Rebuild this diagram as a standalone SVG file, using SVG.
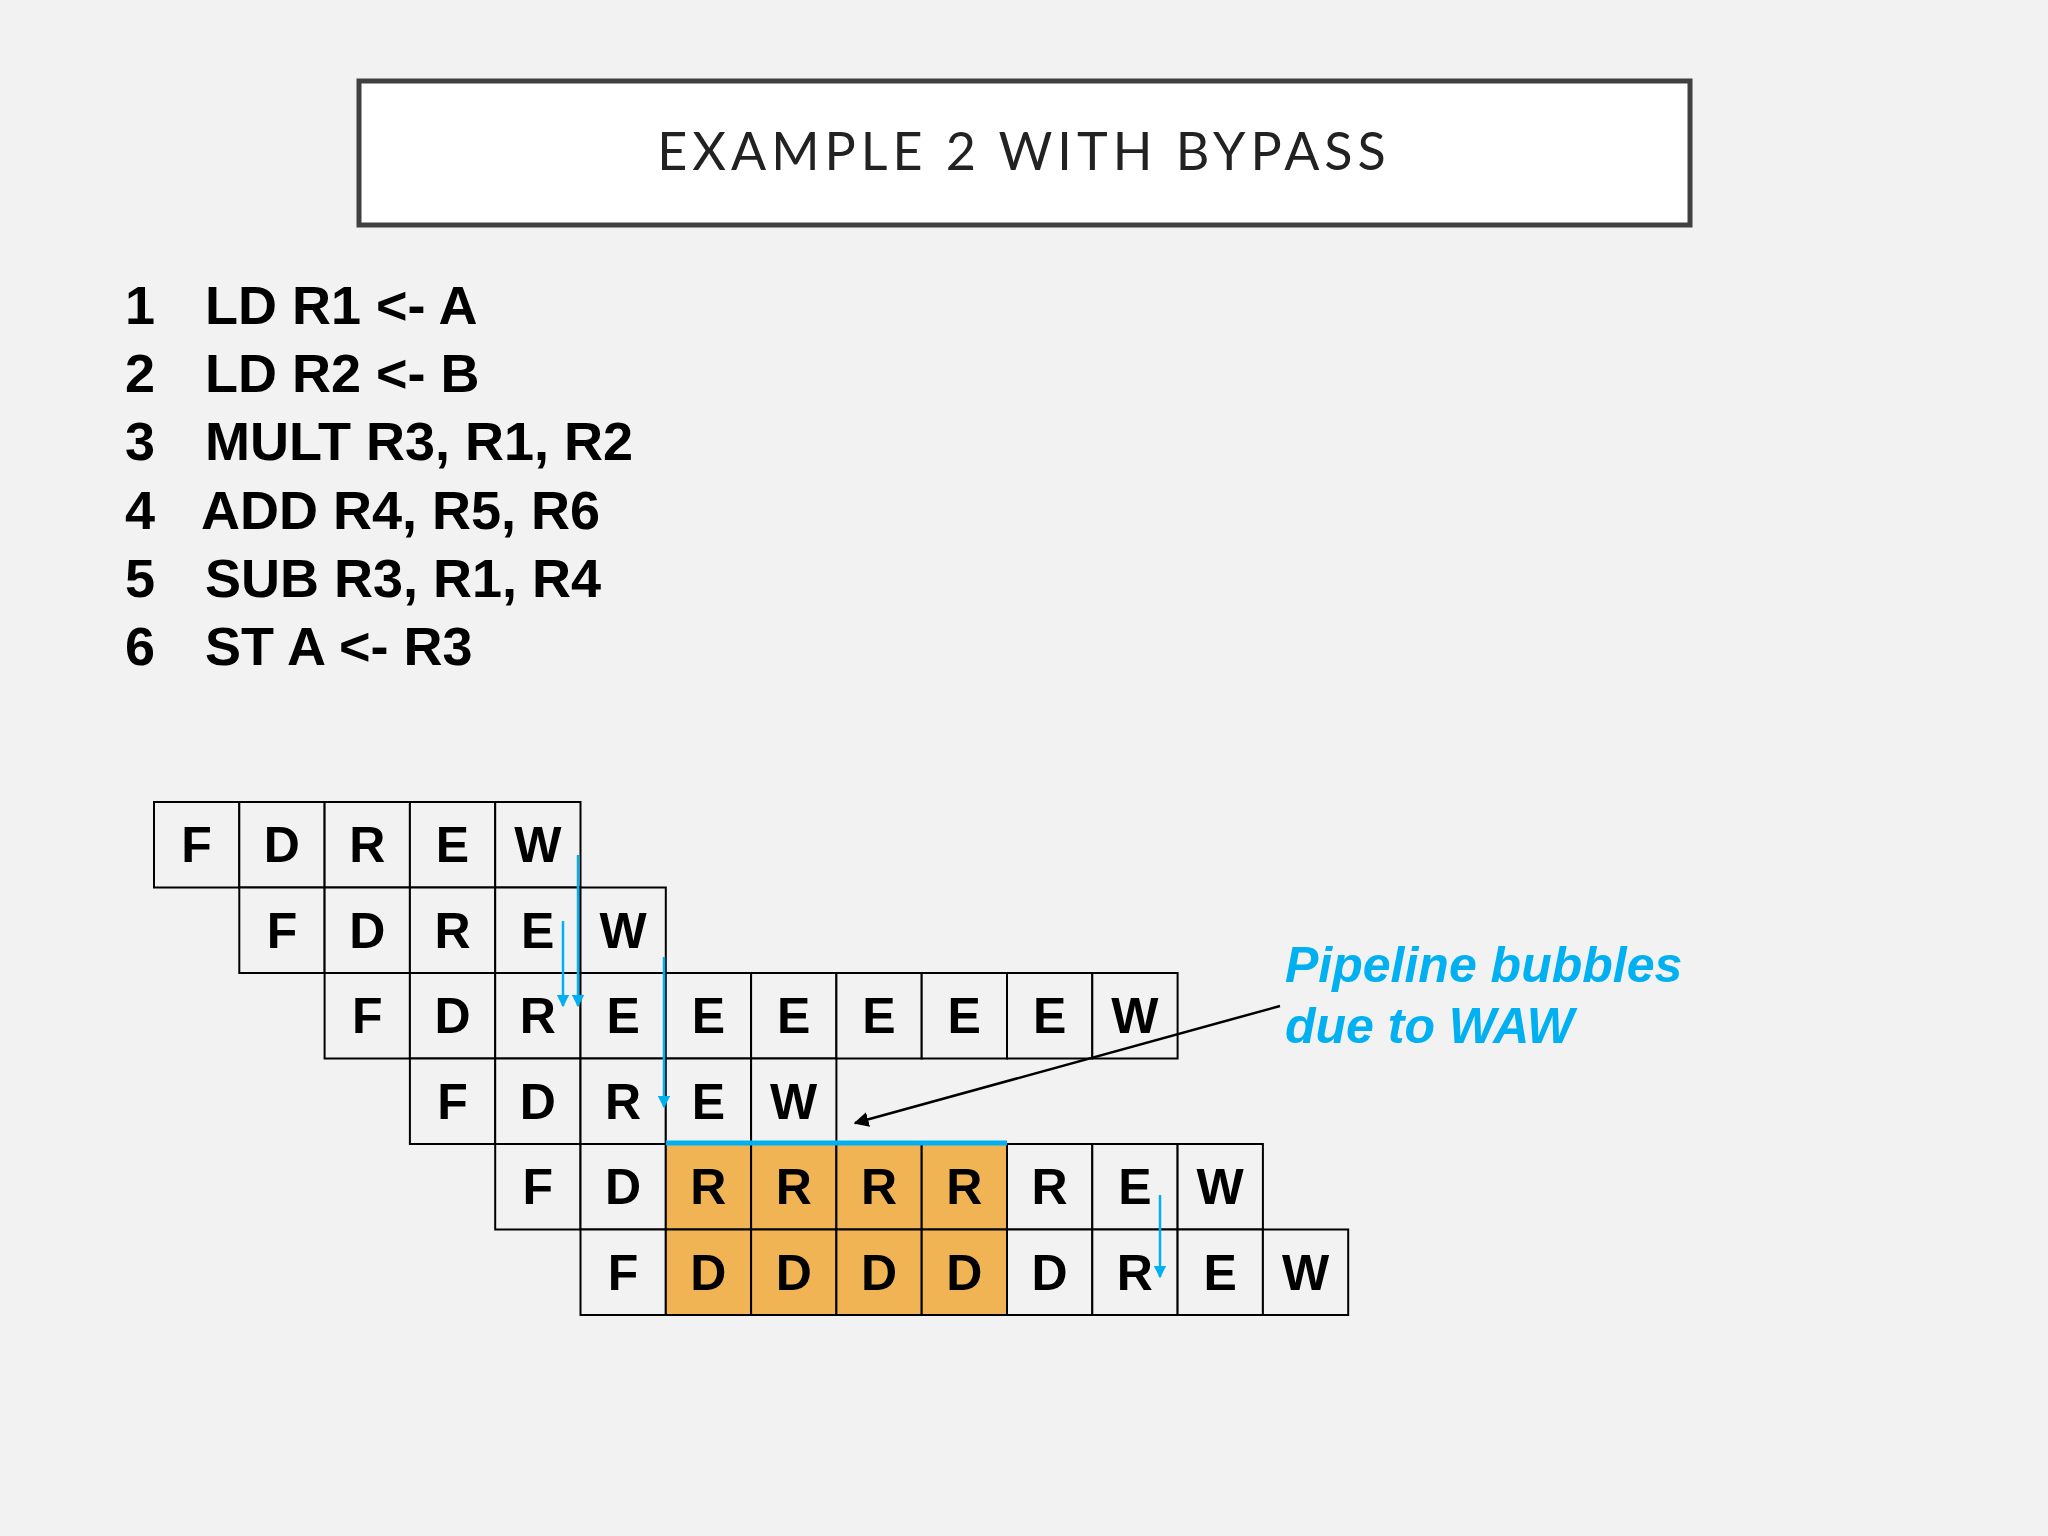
<svg xmlns="http://www.w3.org/2000/svg" width="2048" height="1536" viewBox="0 0 2048 1536">
<style>
.c{fill:#f2f2f2;stroke:#000;stroke-width:2}
.o{fill:#f0b455;stroke:#000;stroke-width:2}
.t{font-family:"Liberation Sans",Arial,sans-serif;font-weight:bold;font-size:50px;text-anchor:middle;fill:#000}
.l{font-family:"Liberation Sans",Arial,sans-serif;font-weight:bold;font-size:54px;fill:#000}
.b{stroke:#00b0f0;stroke-width:2.5;fill:none}
</style>
<defs>
<marker id="ab" viewBox="0 0 10 10" refX="9" refY="5" markerWidth="5" markerHeight="5" orient="auto"><path d="M0,0L10,5L0,10z" fill="#00b0f0"/></marker>
<marker id="ak" viewBox="0 0 10 10" refX="9" refY="5" markerWidth="6" markerHeight="6" orient="auto"><path d="M0,0L10,5L0,10z" fill="#000"/></marker>
</defs>
<rect width="2048" height="1536" fill="#f2f2f2"/>
<g id="title"><rect x="359" y="81" width="1331" height="144" fill="#fff" stroke="#404040" stroke-width="5"/>
<text x="1024" y="170" font-family="Lato,'Open Sans',sans-serif" font-size="52" letter-spacing="5" text-anchor="middle" fill="#222">EXAMPLE 2 WITH BYPASS</text></g>
<g id="code">
<text class="l" x="125" y="324">1</text><text class="l" x="205" y="324">LD R1 &lt;- A</text>
<text class="l" x="125" y="392">2</text><text class="l" x="205" y="392">LD R2 &lt;- B</text>
<text class="l" x="125" y="460">3</text><text class="l" x="205" y="460">MULT R3, R1, R2</text>
<text class="l" x="125" y="529">4</text><text class="l" x="201" y="529">ADD R4, R5, R6</text>
<text class="l" x="125" y="597">5</text><text class="l" x="205" y="597">SUB R3, R1, R4</text>
<text class="l" x="125" y="665">6</text><text class="l" x="205" y="665">ST A &lt;- R3</text>
</g>
<g id="row0">
<rect class="c" x="154" y="802" width="85.3" height="85.5"/><text class="t" x="196.6" y="862">F</text>
<rect class="c" x="239.3" y="802" width="85.3" height="85.5"/><text class="t" x="281.9" y="862">D</text>
<rect class="c" x="324.6" y="802" width="85.3" height="85.5"/><text class="t" x="367.2" y="862">R</text>
<rect class="c" x="409.9" y="802" width="85.3" height="85.5"/><text class="t" x="452.5" y="862">E</text>
<rect class="c" x="495.2" y="802" width="85.3" height="85.5"/><text class="t" x="537.8" y="862">W</text>
</g>
<g id="row1">
<rect class="c" x="239.3" y="887.5" width="85.3" height="85.5"/><text class="t" x="281.9" y="947.5">F</text>
<rect class="c" x="324.6" y="887.5" width="85.3" height="85.5"/><text class="t" x="367.2" y="947.5">D</text>
<rect class="c" x="409.9" y="887.5" width="85.3" height="85.5"/><text class="t" x="452.5" y="947.5">R</text>
<rect class="c" x="495.2" y="887.5" width="85.3" height="85.5"/><text class="t" x="537.8" y="947.5">E</text>
<rect class="c" x="580.5" y="887.5" width="85.3" height="85.5"/><text class="t" x="623.1" y="947.5">W</text>
</g>
<g id="row2">
<rect class="c" x="324.6" y="973" width="85.3" height="85.5"/><text class="t" x="367.2" y="1033">F</text>
<rect class="c" x="409.9" y="973" width="85.3" height="85.5"/><text class="t" x="452.5" y="1033">D</text>
<rect class="c" x="495.2" y="973" width="85.3" height="85.5"/><text class="t" x="537.8" y="1033">R</text>
<rect class="c" x="580.5" y="973" width="85.3" height="85.5"/><text class="t" x="623.1" y="1033">E</text>
<rect class="c" x="665.8" y="973" width="85.3" height="85.5"/><text class="t" x="708.4" y="1033">E</text>
<rect class="c" x="751.1" y="973" width="85.3" height="85.5"/><text class="t" x="793.7" y="1033">E</text>
<rect class="c" x="836.4" y="973" width="85.3" height="85.5"/><text class="t" x="879" y="1033">E</text>
<rect class="c" x="921.7" y="973" width="85.3" height="85.5"/><text class="t" x="964.3" y="1033">E</text>
<rect class="c" x="1007" y="973" width="85.3" height="85.5"/><text class="t" x="1049.6" y="1033">E</text>
<rect class="c" x="1092.3" y="973" width="85.3" height="85.5"/><text class="t" x="1134.9" y="1033">W</text>
</g>
<g id="row3">
<rect class="c" x="409.9" y="1058.5" width="85.3" height="85.5"/><text class="t" x="452.5" y="1118.5">F</text>
<rect class="c" x="495.2" y="1058.5" width="85.3" height="85.5"/><text class="t" x="537.8" y="1118.5">D</text>
<rect class="c" x="580.5" y="1058.5" width="85.3" height="85.5"/><text class="t" x="623.1" y="1118.5">R</text>
<rect class="c" x="665.8" y="1058.5" width="85.3" height="85.5"/><text class="t" x="708.4" y="1118.5">E</text>
<rect class="c" x="751.1" y="1058.5" width="85.3" height="85.5"/><text class="t" x="793.7" y="1118.5">W</text>
</g>
<g id="row4">
<rect class="c" x="495.2" y="1144" width="85.3" height="85.5"/><text class="t" x="537.8" y="1204">F</text>
<rect class="c" x="580.5" y="1144" width="85.3" height="85.5"/><text class="t" x="623.1" y="1204">D</text>
<rect class="o" x="665.8" y="1144" width="85.3" height="85.5"/><text class="t" x="708.4" y="1204">R</text>
<rect class="o" x="751.1" y="1144" width="85.3" height="85.5"/><text class="t" x="793.7" y="1204">R</text>
<rect class="o" x="836.4" y="1144" width="85.3" height="85.5"/><text class="t" x="879" y="1204">R</text>
<rect class="o" x="921.7" y="1144" width="85.3" height="85.5"/><text class="t" x="964.3" y="1204">R</text>
<rect class="c" x="1007" y="1144" width="85.3" height="85.5"/><text class="t" x="1049.6" y="1204">R</text>
<rect class="c" x="1092.3" y="1144" width="85.3" height="85.5"/><text class="t" x="1134.9" y="1204">E</text>
<rect class="c" x="1177.6" y="1144" width="85.3" height="85.5"/><text class="t" x="1220.2" y="1204">W</text>
</g>
<g id="row5">
<rect class="c" x="580.5" y="1229.5" width="85.3" height="85.5"/><text class="t" x="623.1" y="1289.5">F</text>
<rect class="o" x="665.8" y="1229.5" width="85.3" height="85.5"/><text class="t" x="708.4" y="1289.5">D</text>
<rect class="o" x="751.1" y="1229.5" width="85.3" height="85.5"/><text class="t" x="793.7" y="1289.5">D</text>
<rect class="o" x="836.4" y="1229.5" width="85.3" height="85.5"/><text class="t" x="879" y="1289.5">D</text>
<rect class="o" x="921.7" y="1229.5" width="85.3" height="85.5"/><text class="t" x="964.3" y="1289.5">D</text>
<rect class="c" x="1007" y="1229.5" width="85.3" height="85.5"/><text class="t" x="1049.6" y="1289.5">D</text>
<rect class="c" x="1092.3" y="1229.5" width="85.3" height="85.5"/><text class="t" x="1134.9" y="1289.5">R</text>
<rect class="c" x="1177.6" y="1229.5" width="85.3" height="85.5"/><text class="t" x="1220.2" y="1289.5">E</text>
<rect class="c" x="1262.9" y="1229.5" width="85.3" height="85.5"/><text class="t" x="1305.5" y="1289.5">W</text>
</g>
<g id="connectors">
<line class="b" x1="578" y1="855" x2="578" y2="1006" marker-end="url(#ab)"/>
<line class="b" x1="563" y1="921" x2="563" y2="1006" marker-end="url(#ab)"/>
<line class="b" x1="664" y1="957" x2="664" y2="1107" marker-end="url(#ab)"/>
<line class="b" x1="1160" y1="1195" x2="1160" y2="1277" marker-end="url(#ab)"/>
<line x1="665.8" y1="1143" x2="1007" y2="1143" stroke="#00b0f0" stroke-width="5"/>
<line x1="1280" y1="1006" x2="855" y2="1123" stroke="#000" stroke-width="2.5" marker-end="url(#ak)"/>
</g>
<g id="note" font-family="'Liberation Sans',Arial,sans-serif" font-weight="bold" font-style="italic" font-size="50" fill="#00b0f0">
<text x="1285" y="982">Pipeline bubbles</text>
<text x="1285" y="1043">due to WAW</text>
</g>
</svg>
